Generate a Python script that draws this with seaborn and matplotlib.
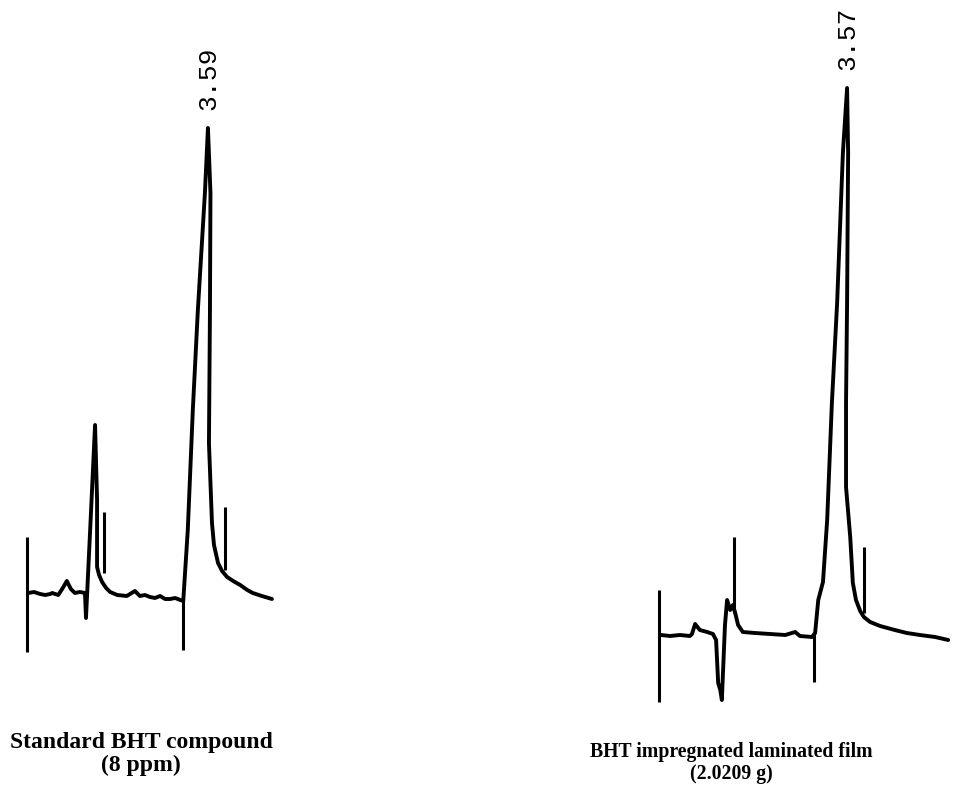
import matplotlib
matplotlib.use("Agg")
import matplotlib.pyplot as plt
import seaborn as sns
import pandas as pd

# Standard BHT compound (8 ppm): retention time (min) and detector signal (mV)
std_time = [0.02, 0.14, 0.26, 0.36, 0.46, 0.50, 0.62, 0.71, 0.79, 0.87, 0.95, 1.05,
            1.15, 1.17, 1.25, 1.35, 1.39, 1.39, 1.43, 1.49, 1.57, 1.65, 1.79, 1.98,
            2.14, 2.24, 2.34, 2.44, 2.54, 2.64, 2.74, 2.84, 2.94, 3.04, 3.10, 3.19,
            3.29, 3.39, 3.53, 3.59, 3.64, 3.63, 3.61, 3.67, 3.71, 3.79, 3.87, 3.97,
            4.09, 4.23, 4.37, 4.48, 4.66, 4.86]
std_signal = [0.0, 0.1, -0.1, -0.2, -0.1, 0.0, -0.2, 0.5, 1.2, 0.4, 0.0, 0.1,
              0.0, -2.5, 6.0, 16.8, 9.3, 2.6, 1.8, 1.1, 0.5, 0.1, -0.2, -0.3,
              0.2, -0.3, -0.2, -0.4, -0.5, -0.3, -0.6, -0.6, -0.5, -0.7, -0.8, 6.3,
              18.3, 28.3, 40.0, 46.5, 40.0, 28.3, 15.0, 7.0, 4.8, 3.0, 2.2, 1.6,
              1.2, 0.8, 0.3, 0.0, -0.3, -0.6]
# integrator event marks: time, lower and upper signal
std_mark_time = [0.00, 1.53, 3.10, 3.93]
std_mark_low = [-5.9, 2.0, -5.7, 2.3]
std_mark_high = [5.6, 8.1, -0.7, 8.6]
std_peak_rt = 3.59
std_peak_height = 46.5

# BHT impregnated laminated film (2.0209 g)
film_time = [0.02, 0.19, 0.38, 0.57, 0.61, 0.67, 0.76, 0.90, 1.01, 1.07, 1.11, 1.15,
             1.18, 1.24, 1.28, 1.34, 1.39, 1.43, 1.49, 1.58, 1.81, 2.10, 2.39, 2.58,
             2.67, 2.90, 2.96, 3.02, 3.11, 3.19, 3.28, 3.38, 3.49, 3.57, 3.59, 3.57,
             3.55, 3.55, 3.63, 3.68, 3.74, 3.82, 3.89, 4.01, 4.20, 4.48, 4.71, 4.96,
             5.25, 5.50]
film_signal = [0.0, -0.1, 0.0, -0.1, 0.1, 1.1, 0.5, 0.3, 0.1, -0.5, -4.8, -5.5,
               -6.5, 1.0, 3.5, 2.5, 3.0, 2.3, 1.0, 0.3, 0.2, 0.1, 0.0, 0.3,
               -0.1, -0.2, 0.2, 3.5, 5.3, 11.5, 23.2, 33.2, 48.2, 54.7, 48.2, 33.2,
               23.2, 14.8, 9.8, 5.2, 3.5, 2.4, 1.8, 1.3, 0.9, 0.5, 0.2, 0.0,
               -0.2, -0.5]
film_mark_time = [-0.02, 1.41, 2.94, 3.89]
film_mark_low = [-6.7, 2.2, -4.7, 2.2]
film_mark_high = [4.5, 9.8, 0.2, 8.8]
film_peak_rt = 3.57
film_peak_height = 54.7

captions = ["Standard BHT compound\n(8 ppm)", "BHT impregnated laminated film\n(2.0209 g)"]
peak_labels = [f"{std_peak_rt:.2f}", f"{film_peak_rt:.2f}"]

sns.set_theme(style="white")
plt.rcParams["font.family"] = ["DejaVu Sans"]

fig = plt.figure(figsize=(9.62, 8.01), dpi=100)
ax_std = fig.add_axes([0.0, 0.0, 0.5, 1.0])
ax_film = fig.add_axes([0.5, 0.0, 0.5, 1.0])

panels = [
    (ax_std, std_time, std_signal, std_mark_time, std_mark_low, std_mark_high,
     std_peak_rt, std_peak_height, (-0.536, 9.008), (-20.8, 59.3)),
    (ax_film, film_time, film_signal, film_mark_time, film_mark_low, film_mark_high,
     film_peak_rt, film_peak_height, (-3.416, 5.763), (-16.6, 63.5)),
]

for i, (ax, t, s, mt, ml, mh, rt, ph, xl, yl) in enumerate(panels):
    df = pd.DataFrame({"time": t, "signal": s})
    sns.lineplot(data=df, x="time", y="signal", sort=False, ax=ax,
                 color="black", linewidth=2.8, estimator=None)
    ax.vlines(mt, ml, mh, color="black", linewidth=2.2)
    ax.text(rt, ph + 1.8, peak_labels[i], rotation=90, ha="center", va="bottom",
            fontsize=19, family="Liberation Mono", color="black")
    ax.set_xlim(*xl)
    ax.set_ylim(*yl)
    ax.set_axis_off()

fig.text(141 / 962, 1 - 754 / 801, captions[0], ha="center", va="center",
         fontsize=17, family="Liberation Serif", fontweight="bold",
         linespacing=1.12, color="black")
fig.text(731 / 962, 1 - 763 / 801, captions[1], ha="center", va="center",
         fontsize=14.2, family="Liberation Serif", fontweight="bold",
         linespacing=1.12, color="black")

fig.savefig("out.png", dpi=100, facecolor="white")
